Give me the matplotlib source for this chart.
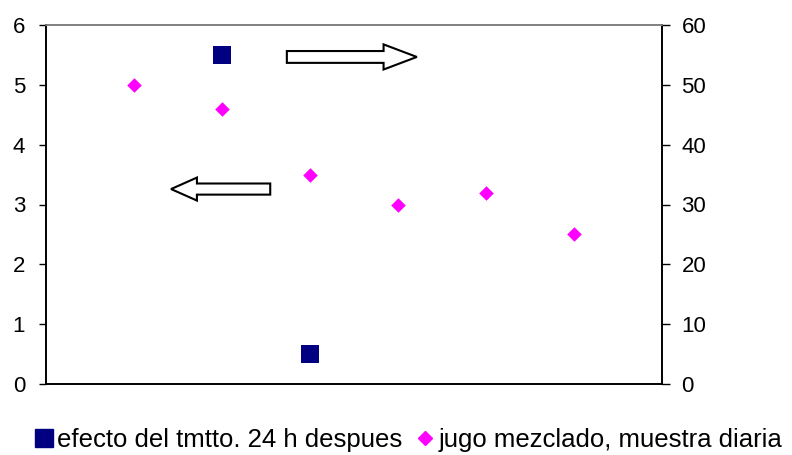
import matplotlib
matplotlib.use("Agg")
import matplotlib.pyplot as plt
from matplotlib.patches import FancyArrow
from matplotlib.lines import Line2D

plt.rcParams['font.family'] = ['Liberation Sans', 'DejaVu Sans']

# Data
muestras = [1, 2, 3, 4, 5, 6]
efecto_x = [2, 3]
efecto_24h = [5.5, 0.5]
jugo_diario = [50, 46, 35, 30, 32, 25]
ticks_izq = [0, 1, 2, 3, 4, 5, 6]
ticks_der = [0, 10, 20, 30, 40, 50, 60]

navy = '#000080'
magenta = '#FF00FF'

fig = plt.figure(figsize=(7.92, 4.55), dpi=100)
ax = fig.add_axes([46/792, 1 - 384/455, 616/792, 359/455])
ax2 = ax.twinx()

ax.scatter(efecto_x, efecto_24h, marker='s', s=169, color=navy, zorder=3, linewidths=0)
ax2.scatter(muestras, jugo_diario, marker='D', s=55, color=magenta, zorder=3, linewidths=0)

ax.set_xlim(0, 7)
ax.set_ylim(0, 6)
ax2.set_ylim(0, 60)
ax.set_yticks(ticks_izq)
ax2.set_yticks(ticks_der)
ax.set_xticks([])

ax.tick_params(axis='y', labelsize=16, length=5, width=1, color='black', pad=10)
ax2.tick_params(axis='y', labelsize=16, length=6, width=1, color='black', pad=8)
for a in (ax, ax2):
    for s in a.spines.values():
        s.set_linewidth(1.2)
    a.spines['top'].set_color('#808080')
    a.spines['bottom'].set_color('black')

# Hollow arrows pointing to each axis
arrow_kw = dict(transform=ax.transAxes, facecolor='white', edgecolor='black',
                linewidth=1.5, length_includes_head=True, zorder=4)
ax.add_patch(FancyArrow(0.391, 0.911, 0.211, 0, width=0.033, head_width=0.070,
                        head_length=0.054, **arrow_kw))
ax.add_patch(FancyArrow(0.364, 0.543, -0.161, 0, width=0.031, head_width=0.064,
                        head_length=0.042, **arrow_kw))

handles = [
    Line2D([], [], linestyle='none', marker='s', markersize=13, color=navy),
    Line2D([], [], linestyle='none', marker='D', markersize=7, color=magenta),
]
labels = ['efecto del tmtto. 24 h despues', 'jugo mezclado, muestra diaria']
fig.legend(handles, labels, loc='lower center', bbox_to_anchor=(0.515, -0.045),
           ncol=2, frameon=False, fontsize=18.5, handlelength=0.8,
           handletextpad=0.1, columnspacing=0.5)

fig.savefig('out.png', dpi=100)
